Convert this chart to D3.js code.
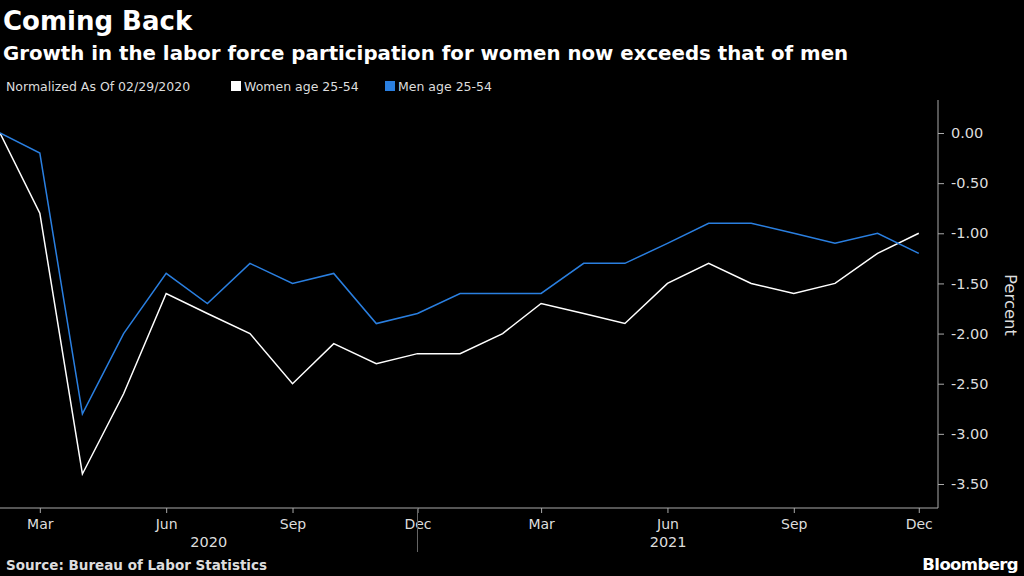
<!DOCTYPE html>
<html><head><meta charset="utf-8">
<script src="https://cdn.jsdelivr.net/npm/d3@7"></script>
<style>
body{margin:0;background:#000;}
text{font-family:"DejaVu Sans",sans-serif;}
</style></head>
<body>
<script>
var months = ["2020-02","2020-03","2020-04","2020-05","2020-06","2020-07","2020-08","2020-09","2020-10","2020-11","2020-12",
  "2021-01","2021-02","2021-03","2021-04","2021-05","2021-06","2021-07","2021-08","2021-09","2021-10","2021-11","2021-12"];
var women = [0,-0.8,-3.4,-2.6,-1.6,-1.8,-2.0,-2.5,-2.1,-2.3,-2.2,-2.2,-2.0,-1.7,-1.8,-1.9,-1.5,-1.3,-1.5,-1.6,-1.5,-1.2,-1.0];
var men = [0,-0.2,-2.8,-2.0,-1.4,-1.7,-1.3,-1.5,-1.4,-1.9,-1.8,-1.6,-1.6,-1.6,-1.3,-1.3,-1.1,-0.9,-0.9,-1.0,-1.1,-1.0,-1.2];
var yTicks = [0,-0.5,-1,-1.5,-2,-2.5,-3,-3.5];
var tickMonths = ["2020-03","2020-06","2020-09","2020-12","2021-03","2021-06","2021-09","2021-12"];
var years = [{label:"2020",from:"2020-02",to:"2020-12"},{label:"2021",from:"2020-12",to:"2021-12"}];

var parse = d3.timeParse("%Y-%m");
var svg = d3.select("body").append("svg").attr("width",1024).attr("height",576);

svg.append("text").attr("x",3).attr("y",30).attr("fill","#fff").attr("font-size",26).attr("font-weight","bold").text("Coming Back");
svg.append("text").attr("x",3).attr("y",60).attr("fill","#fff").attr("font-size",19.8).attr("font-weight","bold").text("Growth in the labor force participation for women now exceeds that of men");

var leg = svg.append("g").attr("font-size",12.5);
leg.append("text").attr("x",6).attr("y",91).attr("fill","#ddd").text("Normalized As Of 02/29/2020");
leg.append("rect").attr("x",231).attr("y",81).attr("width",10).attr("height",10).attr("fill","#fff");
leg.append("text").attr("x",244).attr("y",91).attr("fill","#ddd").text("Women age 25-54");
leg.append("rect").attr("x",385).attr("y",81).attr("width",10).attr("height",10).attr("fill","#2a7fe0");
leg.append("text").attr("x",398).attr("y",91).attr("fill","#ddd").text("Men age 25-54");

var x = d3.scaleTime().domain([new Date(2020,1,1), new Date(2021,11,15)]).range([0,938]);
var y = d3.scaleLinear().domain([0,-3.5]).range([133,484]);

var ya = svg.append("g").attr("transform","translate(938,0)")
  .call(d3.axisRight(y).tickValues(yTicks).tickSize(6));
ya.select(".domain").attr("stroke","#aaa").attr("d","M0,100V508");
ya.selectAll("line").attr("stroke","#aaa");
ya.selectAll("text").attr("fill","#ddd").attr("font-size",14.5).attr("x",13)
  .text(function(d){return d3.format(".2f")(d).replace("−","-");});
svg.append("text").attr("transform","translate(1005,305) rotate(90)").attr("text-anchor","middle")
  .attr("fill","#ddd").attr("font-size",16.5).text("Percent");

var xa = svg.append("g").attr("transform","translate(0,508)")
  .call(d3.axisBottom(x).tickValues(tickMonths.map(parse)).tickFormat(d3.timeFormat("%b")).tickSize(5));
xa.select(".domain").attr("stroke","#aaa").attr("d","M0,0H938");
xa.selectAll("line").attr("stroke","#aaa");
xa.selectAll("text").attr("fill","#ddd").attr("font-size",14).attr("dy","0.9em");
var sep = x(parse("2020-12"));
svg.append("line").attr("x1",sep).attr("x2",sep).attr("y1",508).attr("y2",552).attr("stroke","#666");
years.forEach(function(yr){
  var cx = (x(parse(yr.from)) + x(parse(yr.to)))/2;
  svg.append("text").attr("x",cx).attr("y",547).attr("text-anchor","middle").attr("fill","#ddd").attr("font-size",14.5).text(yr.label);
});

var line = d3.line().x(function(d,i){return x(parse(months[i]));}).y(function(d){return y(d);});
svg.append("path").datum(women).attr("d",line).attr("fill","none").attr("stroke","#fff").attr("stroke-width",1.5);
svg.append("path").datum(men).attr("d",line).attr("fill","none").attr("stroke","#2a7fe0").attr("stroke-width",1.5);

svg.append("text").attr("x",6).attr("y",570).attr("fill","#ddd").attr("font-size",13.5).attr("font-weight","bold").text("Source: Bureau of Labor Statistics");
svg.append("text").attr("x",1018).attr("y",570).attr("text-anchor","end").attr("fill","#fff").attr("font-size",16.5).attr("font-weight","bold").attr("letter-spacing","-0.6").text("Bloomberg");
</script>
</body></html>
